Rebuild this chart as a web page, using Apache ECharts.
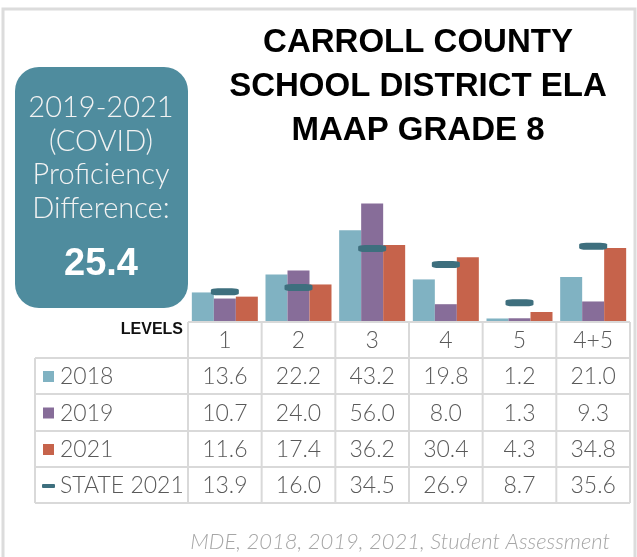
<!DOCTYPE html>
<html>
<head>
<meta charset="utf-8">
<script src="https://cdn.jsdelivr.net/npm/echarts@6/dist/echarts.min.js"></script>
<style>
  html, body { margin: 0; padding: 0; background: #fff; }
  #chart { width: 637px; height: 557px; }
</style>
</head>
<body>
<div id="chart"></div>
<script>
// data
const levels = ['1', '2', '3', '4', '5', '4+5']
const data2018 = [13.6, 22.2, 43.2, 19.8, 1.2, 21.0]
const data2019 = [10.7, 24.0, 56.0, 8.0, 1.3, 9.3]
const data2021 = [11.6, 17.4, 36.2, 30.4, 4.3, 34.8]
const state2021 = [13.9, 16.0, 34.5, 26.9, 8.7, 35.6]
const rowNames = ['2018', '2019', '2021', 'STATE 2021']
const titleLines = ['CARROLL COUNTY', 'SCHOOL DISTRICT ELA', 'MAAP GRADE 8']
const boxLines = ['2019-2021', '(COVID)', 'Proficiency', 'Difference:']
const covidDiff = '25.4'
const source = 'MDE, 2018, 2019, 2021, Student Assessment'

const colors = ['#80b2c2', '#876d99', '#c6634b', '#3e6f7e']
const lightFont = 'Lato, "Noto Sans", sans-serif'

const gridLeft = 188
const gridRight = 630
const colW = (gridRight - gridLeft) / levels.length
const rowsY = [322, 358, 394, 431, 467, 503] // header + 4 data rows
const tableLeft = 35
const lineColor = '#d9d9d9'

function buildTable () {
  let els = []
  // horizontal lines
  els.push({ type: 'line', shape: { x1: gridLeft, y1: rowsY[0], x2: gridRight, y2: rowsY[0] }, style: { stroke: lineColor, lineWidth: 2 } })
  for (let i = 1; i < rowsY.length; i++) {
    els.push({ type: 'line', shape: { x1: tableLeft, y1: rowsY[i], x2: gridRight, y2: rowsY[i] }, style: { stroke: lineColor, lineWidth: 2 } })
  }
  // vertical lines
  els.push({ type: 'line', shape: { x1: tableLeft, y1: rowsY[1], x2: tableLeft, y2: rowsY[5] }, style: { stroke: lineColor, lineWidth: 2 } })
  for (let c = 0; c <= levels.length; c++) {
    let x = gridLeft + c * colW
    els.push({ type: 'line', shape: { x1: x, y1: rowsY[0], x2: x, y2: rowsY[5] }, style: { stroke: lineColor, lineWidth: 2 } })
  }
  // header
  els.push({
    type: 'text', x: 183, y: 330,
    style: { text: 'LEVELS', fill: '#111', font: 'bold 16px "Liberation Sans", sans-serif', align: 'right', verticalAlign: 'middle' }
  })
  levels.forEach((lv, c) => {
    els.push({
      type: 'text', x: gridLeft + (c + 0.5) * colW, y: (rowsY[0] + rowsY[1]) / 2 + 1,
      style: { text: lv, fill: '#595959', font: '300 23px ' + lightFont, align: 'center', verticalAlign: 'middle' }
    })
  })
  // rows
  const rows = [data2018, data2019, data2021, state2021]
  rows.forEach((vals, r) => {
    let cy = (rowsY[r + 1] + rowsY[r + 2]) / 2 + 1
    if (r < 3) {
      els.push({ type: 'rect', shape: { x: 43, y: cy - 6, width: 11, height: 11 }, style: { fill: colors[r] } })
    } else {
      els.push({ type: 'rect', shape: { x: 42, y: cy - 2, width: 13, height: 4, r: 1 }, style: { fill: colors[3] } })
    }
    els.push({
      type: 'text', x: 60, y: cy,
      style: { text: rowNames[r], fill: '#595959', font: '300 23px ' + lightFont, align: 'left', verticalAlign: 'middle' }
    })
    vals.forEach((v, c) => {
      els.push({
        type: 'text', x: gridLeft + (c + 0.5) * colW, y: cy,
        style: { text: v.toFixed(1), fill: '#595959', font: '300 23px ' + lightFont, align: 'center', verticalAlign: 'middle' }
      })
    })
  })
  return els
}

function buildDecor () {
  let els = []
  // outer frame
  els.push({ type: 'polyline', shape: { points: [[3, 557], [3, 9], [635, 9], [635, 557]] }, style: { stroke: '#dcdcdc', lineWidth: 3, fill: null } })
  // title
  titleLines.forEach((t, i) => {
    els.push({
      type: 'text', x: 418, y: 43 + i * 44,
      style: { text: t, fill: '#000', font: 'bold 33px "Liberation Sans", sans-serif', align: 'center', verticalAlign: 'middle' }
    })
  })
  // covid box
  els.push({ type: 'rect', shape: { x: 15, y: 67, width: 173, height: 241, r: 24 }, style: { fill: '#4f8c9e' } })
  boxLines.forEach((t, i) => {
    els.push({
      type: 'text', x: 101, y: 108 + i * 33.5,
      style: { text: t, fill: '#f2f2f2', font: '300 29px ' + lightFont, align: 'center', verticalAlign: 'middle' }
    })
  })
  els.push({
    type: 'text', x: 101, y: 265,
    style: {
      text: covidDiff, fill: '#fff', font: 'bold 38px "Liberation Sans", sans-serif', align: 'center', verticalAlign: 'middle',
      shadowColor: 'rgba(0,0,0,0.45)', shadowBlur: 4, shadowOffsetX: 2, shadowOffsetY: 3
    }
  })
  // source note
  els.push({
    type: 'text', x: 610, y: 542,
    style: { text: source, fill: '#a6a6a6', font: 'italic 300 22px ' + lightFont, align: 'right', verticalAlign: 'middle' }
  })
  return els
}

const myChart = echarts.init(document.getElementById('chart'))
const option = {
  animation: false,
  grid: { left: gridLeft, right: 637 - gridRight, top: 195, bottom: 557 - 321 },
  xAxis: {
    type: 'category',
    data: levels,
    axisLine: { show: false },
    axisTick: { show: false },
    axisLabel: { show: false }
  },
  yAxis: {
    type: 'value',
    min: 0,
    max: 60,
    show: false,
    splitLine: { show: false }
  },
  series: [
    { name: '2018', type: 'bar', data: data2018, barWidth: 22, barGap: '0%', itemStyle: { color: colors[0] } },
    { name: '2019', type: 'bar', data: data2019, barWidth: 22, barGap: '0%', itemStyle: { color: colors[1] } },
    { name: '2021', type: 'bar', data: data2021, barWidth: 22, barGap: '0%', itemStyle: { color: colors[2] } },
    {
      name: 'STATE 2021',
      type: 'scatter',
      data: state2021,
      symbol: 'roundRect',
      symbolSize: [28, 7],
      z: 5,
      itemStyle: { color: colors[3], opacity: 1 }
    }
  ],
  graphic: buildDecor().concat(buildTable())
}
myChart.setOption(option)
</script>
</body>
</html>
